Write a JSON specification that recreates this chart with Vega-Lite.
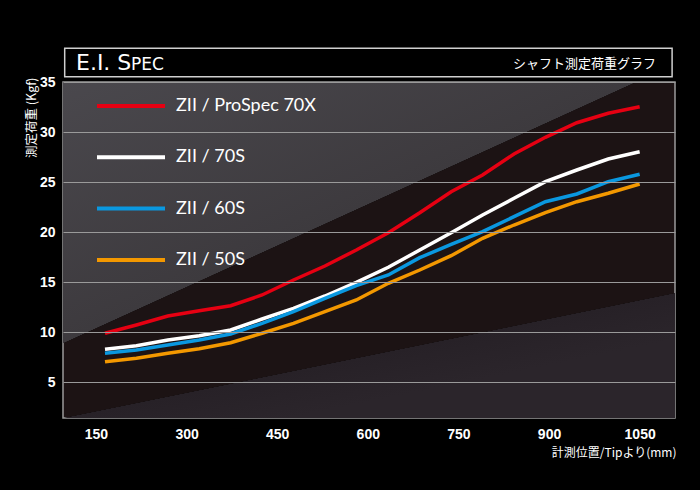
{
  "$schema": "https://vega.github.io/schema/vega-lite/v6.json",
  "width": 612,
  "height": 336,
  "autosize": {"type": "none"},
  "padding": {"left": 63, "top": 82, "right": 25, "bottom": 72},
  "background": "#000000",
  "config": {
    "view": {"fill": "#1c1314", "stroke": "#9a9a9a", "strokeWidth": 1.5}
  },
  "datasets": {
    "shafts": [
      {"pos": 165, "load": 9.87, "shaft": "ZII / ProSpec 70X"},
      {"pos": 217, "load": 10.7, "shaft": "ZII / ProSpec 70X"},
      {"pos": 269, "load": 11.6, "shaft": "ZII / ProSpec 70X"},
      {"pos": 321, "load": 12.13, "shaft": "ZII / ProSpec 70X"},
      {"pos": 373, "load": 12.63, "shaft": "ZII / ProSpec 70X"},
      {"pos": 425, "load": 13.7, "shaft": "ZII / ProSpec 70X"},
      {"pos": 477, "load": 15.2, "shaft": "ZII / ProSpec 70X"},
      {"pos": 529, "load": 16.6, "shaft": "ZII / ProSpec 70X"},
      {"pos": 581, "load": 18.2, "shaft": "ZII / ProSpec 70X"},
      {"pos": 634, "load": 19.93, "shaft": "ZII / ProSpec 70X"},
      {"pos": 686, "load": 21.93, "shaft": "ZII / ProSpec 70X"},
      {"pos": 738, "load": 24.03, "shaft": "ZII / ProSpec 70X"},
      {"pos": 790, "load": 25.7, "shaft": "ZII / ProSpec 70X"},
      {"pos": 842, "load": 27.8, "shaft": "ZII / ProSpec 70X"},
      {"pos": 894, "load": 29.47, "shaft": "ZII / ProSpec 70X"},
      {"pos": 946, "load": 30.93, "shaft": "ZII / ProSpec 70X"},
      {"pos": 998, "load": 31.87, "shaft": "ZII / ProSpec 70X"},
      {"pos": 1050, "load": 32.53, "shaft": "ZII / ProSpec 70X"},
      {"pos": 165, "load": 8.27, "shaft": "ZII / 70S"},
      {"pos": 217, "load": 8.63, "shaft": "ZII / 70S"},
      {"pos": 269, "load": 9.2, "shaft": "ZII / 70S"},
      {"pos": 321, "load": 9.63, "shaft": "ZII / 70S"},
      {"pos": 373, "load": 10.2, "shaft": "ZII / 70S"},
      {"pos": 425, "load": 11.3, "shaft": "ZII / 70S"},
      {"pos": 477, "load": 12.37, "shaft": "ZII / 70S"},
      {"pos": 529, "load": 13.6, "shaft": "ZII / 70S"},
      {"pos": 581, "load": 14.97, "shaft": "ZII / 70S"},
      {"pos": 634, "load": 16.47, "shaft": "ZII / 70S"},
      {"pos": 686, "load": 18.2, "shaft": "ZII / 70S"},
      {"pos": 738, "load": 19.93, "shaft": "ZII / 70S"},
      {"pos": 790, "load": 21.7, "shaft": "ZII / 70S"},
      {"pos": 842, "load": 23.37, "shaft": "ZII / 70S"},
      {"pos": 894, "load": 25.03, "shaft": "ZII / 70S"},
      {"pos": 946, "load": 26.2, "shaft": "ZII / 70S"},
      {"pos": 998, "load": 27.3, "shaft": "ZII / 70S"},
      {"pos": 1050, "load": 28.03, "shaft": "ZII / 70S"},
      {"pos": 165, "load": 7.87, "shaft": "ZII / 60S"},
      {"pos": 217, "load": 8.2, "shaft": "ZII / 60S"},
      {"pos": 269, "load": 8.7, "shaft": "ZII / 60S"},
      {"pos": 321, "load": 9.2, "shaft": "ZII / 60S"},
      {"pos": 373, "load": 9.8, "shaft": "ZII / 60S"},
      {"pos": 425, "load": 10.87, "shaft": "ZII / 60S"},
      {"pos": 477, "load": 12.03, "shaft": "ZII / 60S"},
      {"pos": 529, "load": 13.37, "shaft": "ZII / 60S"},
      {"pos": 581, "load": 14.63, "shaft": "ZII / 60S"},
      {"pos": 634, "load": 15.7, "shaft": "ZII / 60S"},
      {"pos": 686, "load": 17.43, "shaft": "ZII / 60S"},
      {"pos": 738, "load": 18.77, "shaft": "ZII / 60S"},
      {"pos": 790, "load": 20.03, "shaft": "ZII / 60S"},
      {"pos": 842, "load": 21.53, "shaft": "ZII / 60S"},
      {"pos": 894, "load": 23.03, "shaft": "ZII / 60S"},
      {"pos": 946, "load": 23.8, "shaft": "ZII / 60S"},
      {"pos": 998, "load": 25.03, "shaft": "ZII / 60S"},
      {"pos": 1050, "load": 25.77, "shaft": "ZII / 60S"},
      {"pos": 165, "load": 7.03, "shaft": "ZII / 50S"},
      {"pos": 217, "load": 7.37, "shaft": "ZII / 50S"},
      {"pos": 269, "load": 7.87, "shaft": "ZII / 50S"},
      {"pos": 321, "load": 8.33, "shaft": "ZII / 50S"},
      {"pos": 373, "load": 8.93, "shaft": "ZII / 50S"},
      {"pos": 425, "load": 9.87, "shaft": "ZII / 50S"},
      {"pos": 477, "load": 10.87, "shaft": "ZII / 50S"},
      {"pos": 529, "load": 12.03, "shaft": "ZII / 50S"},
      {"pos": 581, "load": 13.2, "shaft": "ZII / 50S"},
      {"pos": 634, "load": 14.87, "shaft": "ZII / 50S"},
      {"pos": 686, "load": 16.2, "shaft": "ZII / 50S"},
      {"pos": 738, "load": 17.63, "shaft": "ZII / 50S"},
      {"pos": 790, "load": 19.37, "shaft": "ZII / 50S"},
      {"pos": 842, "load": 20.7, "shaft": "ZII / 50S"},
      {"pos": 894, "load": 21.93, "shaft": "ZII / 50S"},
      {"pos": 946, "load": 23.03, "shaft": "ZII / 50S"},
      {"pos": 998, "load": 23.87, "shaft": "ZII / 50S"},
      {"pos": 1050, "load": 24.8, "shaft": "ZII / 50S"}
    ]
  },
  "layer": [
    {
      "data": {"values": [{}]},
      "mark": {
        "type": "rect",
        "fill": {
          "gradient": "linear",
          "x1": 0, "y1": 0, "x2": 0.779, "y2": 0.938,
          "stops": [
            {"offset": 0, "color": "#4a484d"},
            {"offset": 0.49, "color": "#3d3a3e"},
            {"offset": 0.4915, "color": "rgba(0,0,0,0)"},
            {"offset": 1, "color": "rgba(0,0,0,0)"}
          ]
        }
      },
      "encoding": {}
    },
    {
      "data": {"values": [{}]},
      "mark": {
        "type": "rect",
        "fill": {
          "gradient": "linear",
          "x1": 0, "y1": 0, "x2": 0.372, "y2": 1,
          "stops": [
            {"offset": 0, "color": "rgba(0,0,0,0)"},
            {"offset": 0.878, "color": "rgba(0,0,0,0)"},
            {"offset": 0.8795, "color": "#272127"},
            {"offset": 1, "color": "#2b252b"}
          ]
        }
      },
      "encoding": {}
    },
    {
      "data": {"values": [{}]},
      "mark": {"type": "rect", "filled": false, "stroke": "#cfcfcf", "strokeWidth": 1.5, "clip": false},
      "encoding": {
        "x": {"datum": 98.3, "type": "quantitative", "scale": {"domain": [95.5, 1108.5], "nice": false, "zero": false}},
        "x2": {"datum": 1103.7},
        "y": {"datum": 38.37, "type": "quantitative", "scale": {"domain": [1.4, 35], "nice": false, "zero": false}},
        "y2": {"datum": 35.53}
      }
    },
    {
      "data": {"values": [{}]},
      "mark": {"type": "text", "text": "E.I. S", "font": "DejaVu Sans", "fontSize": 22, "color": "#ffffff", "align": "left", "baseline": "alphabetic", "clip": false},
      "encoding": {
        "x": {"datum": 117, "type": "quantitative"},
        "y": {"datum": 36.2, "type": "quantitative"}
      }
    },
    {
      "data": {"values": [{}]},
      "mark": {"type": "text", "text": "PEC", "font": "DejaVu Sans", "fontSize": 17, "color": "#ffffff", "align": "left", "baseline": "alphabetic", "clip": false},
      "encoding": {
        "x": {"datum": 208, "type": "quantitative"},
        "y": {"datum": 36.2, "type": "quantitative"}
      }
    },
    {
      "data": {"values": [{}]},
      "mark": {"type": "text", "text": "シャフト測定荷重グラフ", "font": "Noto Sans CJK JP", "fontSize": 13, "color": "#ffffff", "align": "right", "baseline": "middle", "clip": false},
      "encoding": {
        "x": {"datum": 1077, "type": "quantitative"},
        "y": {"datum": 36.78, "type": "quantitative"}
      }
    },
    {
      "data": {"name": "shafts"},
      "mark": {"type": "line", "strokeWidth": 3.5},
      "encoding": {
        "x": {
          "field": "pos", "type": "quantitative",
          "scale": {"domain": [95.5, 1108.5], "nice": false, "zero": false},
          "axis": {
            "values": [150, 300, 450, 600, 750, 900, 1050],
            "format": "d",
            "grid": false, "ticks": false, "domain": false,
            "labelColor": "#ffffff", "labelFont": "Liberation Sans", "labelFontWeight": "bold", "labelFontSize": 14,
            "labelPadding": 9,
            "title": "計測位置/Tipより(mm)",
            "titleFont": "Noto Sans CJK JP", "titleFontSize": 12, "titleFontWeight": "normal", "titleColor": "#ffffff",
            "titleAlign": "right", "titleBaseline": "middle", "titleX": 613, "titleY": 34,
            "zindex": 1
          }
        },
        "y": {
          "field": "load", "type": "quantitative",
          "scale": {"domain": [1.4, 35], "nice": false, "zero": false},
          "axis": {
            "values": [5, 10, 15, 20, 25, 30, 35],
            "grid": true, "gridColor": "#9a9a9a", "gridWidth": 1.2,
            "ticks": false, "domain": false,
            "labelColor": "#ffffff", "labelFont": "Liberation Sans", "labelFontWeight": "bold", "labelFontSize": 14,
            "labelPadding": 8,
            "title": "測定荷重 (Kgf)",
            "titleFont": "Noto Sans CJK JP", "titleFontSize": 12.5, "titleFontWeight": "normal", "titleColor": "#ffffff",
            "titleAngle": 270, "titleAlign": "right", "titleBaseline": "middle", "titleX": -32, "titleY": -5,
            "zindex": 1
          }
        },
        "color": {
          "field": "shaft", "type": "nominal",
          "scale": {
            "domain": ["ZII / ProSpec 70X", "ZII / 70S", "ZII / 60S", "ZII / 50S"],
            "range": ["#e60012", "#ffffff", "#0a98e0", "#f39800"]
          },
          "legend": {
            "orient": "none", "legendX": 32, "legendY": 14,
            "title": null,
            "symbolType": "stroke", "symbolSize": 4624, "symbolStrokeWidth": 4,
            "labelFont": "Lato", "labelFontSize": 18, "labelColor": "#ffffff", "labelOffset": 9, "labelLimit": 300,
            "clipHeight": 20, "rowPadding": 31.3
          }
        }
      }
    }
  ]
}
